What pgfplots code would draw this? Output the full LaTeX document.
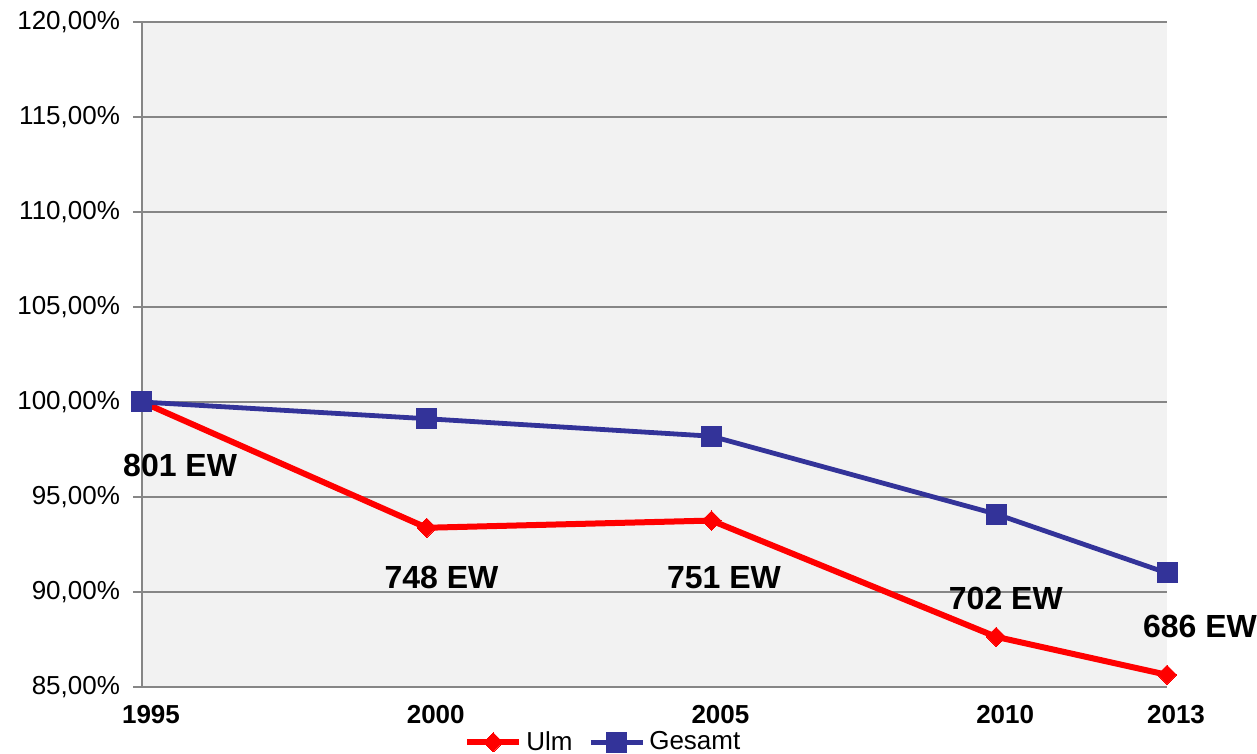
\documentclass[border=0pt]{standalone}
\usepackage{pgfplots}
\pgfplotsset{compat=1.18}
\usepackage{fontspec}
\setmainfont{Liberation Sans}
\definecolor{ulmred}{HTML}{FF0000}
\definecolor{gesblue}{HTML}{333399}
\definecolor{gridgray}{HTML}{868686}
\definecolor{plotbg}{HTML}{F2F2F2}
\begin{document}
\begin{tikzpicture}
\begin{axis}[
  name=ax,
  scale only axis,
  width=512.5pt, height=332.5pt,
  xmin=1995, xmax=2013,
  ymin=85, ymax=120,
  clip=false,
  axis background/.style={fill=plotbg},
  axis x line*=bottom,
  axis y line*=left,
  axis line style={gridgray, line width=1pt},
  ymajorgrids,
  grid style={gridgray, line width=1pt},
  xtick={1995,2000,2005,2010,2013},
  xticklabels={1995,2000,2005,2010,2013},
  ytick={85,90,...,120},
  yticklabels={85{,}00\%,90{,}00\%,95{,}00\%,100{,}00\%,105{,}00\%,110{,}00\%,115{,}00\%,120{,}00\%},
  xtick style={draw=none},
  ytick style={gridgray, line width=1pt},
  tick align=outside,
  major tick length=4.5pt,
  xticklabel style={font=\fontsize{13}{15}\selectfont\bfseries, xshift=4.5pt, yshift=-1pt},
  yticklabel style={font=\fontsize{13}{15}\selectfont, xshift=-3pt},
  legend style={
    at={(0.451,-0.083)}, anchor=center,
    legend columns=-1, draw=none, fill=none,
    font=\fontsize{13}{15}\selectfont,
    /tikz/every even column/.append style={column sep=6pt}},
  legend image code/.code={
    \draw[mark repeat=2,mark phase=2] plot coordinates {(0pt,0pt) (13pt,0pt) (26pt,0pt)};},
]
\addplot[ulmred, line width=3pt, mark=square*, mark size=3.4pt, mark options={solid, line width=0pt, rotate=45}] coordinates {
  (1995, 100.00)
  (2000, 93.38)
  (2005, 93.76)
  (2010, 87.64)
  (2013, 85.64)
};
\addlegendentry{Ulm}
\addplot[gesblue, line width=2.4pt, mark=square*, mark size=5pt, mark options={solid, line width=0pt}] coordinates {
  (1995, 100.00)
  (2000, 99.12)
  (2005, 98.20)
  (2010, 94.10)
  (2013, 91.00)
};
\addlegendentry{Gesamt}
\node[font=\fontsize{16}{18}\selectfont\bfseries] at (axis cs:1995.67,96.68) {801 EW};
\node[font=\fontsize{16}{18}\selectfont\bfseries] at (axis cs:2000.26,90.74) {748 EW};
\node[font=\fontsize{16}{18}\selectfont\bfseries] at (axis cs:2005.22,90.74) {751 EW};
\node[font=\fontsize{16}{18}\selectfont\bfseries] at (axis cs:2010.17,89.68) {702 EW};
\node[font=\fontsize{16}{18}\selectfont\bfseries] at (axis cs:2013.58,88.16) {686 EW};
\end{axis}
\pgfresetboundingbox
\path (ax.south west) ++(-71pt,-33.5pt) rectangle ++(628.5pt,377pt);
\end{tikzpicture}
\end{document}
